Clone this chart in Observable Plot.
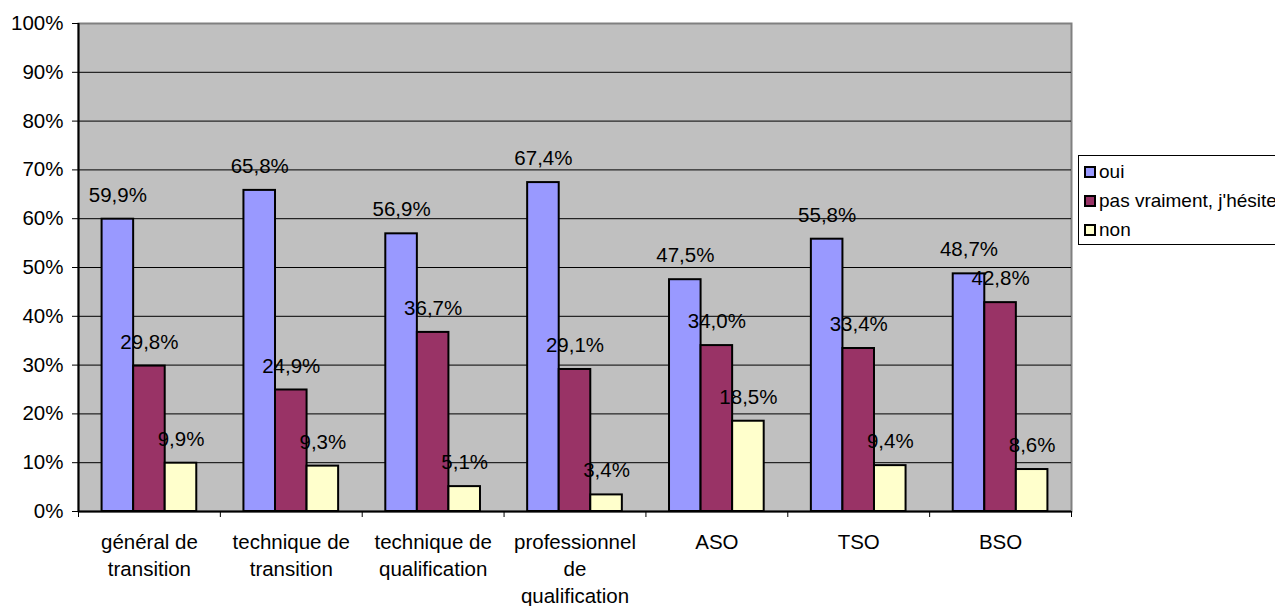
<!DOCTYPE html>
<html>
<head>
<meta charset="utf-8">
<script src="https://cdn.jsdelivr.net/npm/d3@7"></script>
<script src="https://cdn.jsdelivr.net/npm/@observablehq/plot@0.6"></script>
<style>
  html, body { margin: 0; padding: 0; background: #fff; overflow: hidden; }
  #wrap { position: relative; width: 1275px; height: 606px; font-family: "Liberation Sans", Arial, sans-serif; }
  #legend { position: absolute; left: 1078px; top: 155px; width: 215px; height: 90px; border: 1px solid #000; background: #fff; box-sizing: border-box; }
  .item { position: absolute; left: 5px; height: 20px; display: flex; align-items: center; font-size: 19px; color: #000; white-space: nowrap; }
  .sw { width: 8px; height: 8px; border: 2px solid #000; margin-right: 3px; }
</style>
</head>
<body>
<div id="wrap"><div id="legend"></div></div>
<script>
const categories = ["général de\ntransition", "technique de\ntransition", "technique de\nqualification", "professionnel\nde\nqualification", "ASO", "TSO", "BSO"];
const seriesNames = ["oui", "pas vraiment, j'hésite", "non"];
const oui = [59.9, 65.8, 56.9, 67.4, 47.5, 55.8, 48.7];
const pas = [29.8, 24.9, 36.7, 29.1, 34.0, 33.4, 42.8];
const non = [9.9, 9.3, 5.1, 3.4, 18.5, 9.4, 8.6];
const colors = ["#9999FF", "#993366", "#FFFFCC"];
const yTicks = [0, 10, 20, 30, 40, 50, 60, 70, 80, 90, 100];

const W = 1275, H = 606, mt = 23, mb = 95, ml = 78, mr = 204;
const bw = (W - ml - mr) / categories.length;
const plotH = H - mt - mb;
const barFrac = 0.2225, padFrac = (1 - 3 * barFrac) / 2;
const FS = 20.5;

const values = [oui, pas, non];
const rows = categories.map((c, i) => ({cat: c, v0: oui[i], v1: pas[i], v2: non[i]}));
const fmt = v => v.toFixed(1).replace(".", ",") + "%";

const marks = [
  Plot.frame({fill: "#C0C0C0", stroke: "#808080", strokeWidth: 2}),
  Plot.ruleY(yTicks.filter(t => t > 0 && t < 100), {stroke: "#000", strokeWidth: 1})
];
values.forEach((vals, k) => {
  const insetLeft = bw * (padFrac + barFrac * k);
  const insetRight = bw - insetLeft - bw * barFrac;
  marks.push(Plot.barY(rows, {x: "cat", y: "v" + k, fill: colors[k], stroke: "#000", strokeWidth: 2, insetLeft, insetRight}));
});
values.forEach((vals, k) => {
  const dx = -bw / 2 + bw * (padFrac + barFrac * k) + bw * barFrac / 2;
  marks.push(Plot.text(rows, {x: "cat", y: "v" + k, text: d => fmt(d["v" + k]), dx, dy: -24, fontSize: FS, fill: "#000"}));
});
marks.push(
  Plot.ruleY([0], {stroke: "#000", strokeWidth: 2}),
  Plot.ruleX([categories[0]], {x: d => d, dx: -bw / 2, stroke: "#000", strokeWidth: 2}),
  Plot.ruleX(categories, {x: d => d, dx: -bw / 2, y1: 0, y2: -6 * 100 / plotH, stroke: "#000", strokeWidth: 1}),
  Plot.ruleX([categories[categories.length - 1]], {x: d => d, dx: bw / 2, y1: 0, y2: -6 * 100 / plotH, stroke: "#000", strokeWidth: 1}),
  Plot.axisY({ticks: yTicks, tickSize: 6, tickPadding: 9, tickFormat: d => d + "%", fontSize: FS, label: null}),
  Plot.axisX({tickSize: 0, tickPadding: 19, tickFormat: d => d, fontSize: FS, lineHeight: 1.3, label: null})
);

const chart = Plot.plot({
  width: W, height: H,
  marginTop: mt, marginBottom: mb, marginLeft: ml, marginRight: mr,
  style: {fontFamily: "'Liberation Sans', Arial, sans-serif", fontSize: FS + "px", color: "#000", background: "transparent", overflow: "visible"},
  x: {domain: categories, padding: 0, round: false, axis: null},
  y: {domain: [0, 100], axis: null},
  marks
});
document.getElementById("wrap").prepend(chart);

const legend = document.getElementById("legend");
seriesNames.forEach((name, k) => {
  const it = document.createElement("div");
  it.className = "item";
  it.style.top = (6 + 29 * k) + "px";
  const sw = document.createElement("span");
  sw.className = "sw";
  sw.style.background = colors[k];
  it.appendChild(sw);
  it.appendChild(document.createTextNode(name));
  legend.appendChild(it);
});
</script>
</body>
</html>
